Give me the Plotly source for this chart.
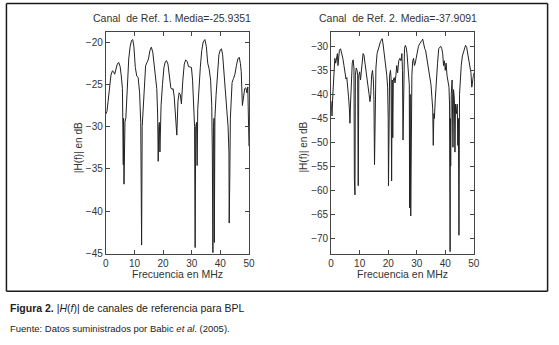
import plotly.graph_objects as go

# ---- Data: Canal de Ref. 1 (frequency MHz, |H(f)| dB) ----
f1 = [0.0, 0.4, 0.8, 1.3, 1.8, 2.3, 2.7, 3.1, 3.5, 4.0, 4.5, 5.0, 5.4, 5.8, 6.1, 6.2, 6.35, 6.5, 6.7,
      7.0, 7.5, 8.0, 8.5, 9.0, 9.4, 9.8, 10.3, 10.8, 11.3, 11.8, 12.2, 12.5, 12.7, 13.0, 13.4, 13.9,
      14.4, 14.9, 15.4, 15.9, 16.4, 16.9, 17.4, 17.8, 18.1, 18.3, 18.5, 18.7, 18.9, 19.3, 19.8, 20.3,
      20.8, 21.2, 21.7, 22.2, 22.7, 23.1, 23.5, 23.9, 24.3, 24.8, 25.2, 25.6, 26.0, 26.4, 26.9, 27.4,
      27.9, 28.4, 28.9, 29.4, 29.9, 30.3, 30.7, 31.0, 31.2, 31.4, 31.7, 31.9, 32.1, 32.5, 33.0, 33.5,
      34.0, 34.6, 35.1, 35.6, 36.1, 36.6, 37.0, 37.2, 37.4, 37.6, 37.8, 37.9, 38.1, 38.5, 39.0, 39.5,
      40.0, 40.4, 40.8, 41.3, 41.8, 42.3, 42.7, 43.0, 43.1, 43.3, 43.5, 44.1, 44.6, 45.1, 45.6, 46.1,
      46.6, 47.0, 47.3, 47.7, 48.1, 48.5, 48.9, 49.3, 49.6, 49.8, 50.0]
h1 = [-28.5, -28.2, -27.0, -25.0, -23.9, -23.4, -23.5, -23.8, -23.3, -22.6, -22.4, -22.9, -24.0, -25.5,
      -34.5, -29.0, -36.8, -30.0, -29.4, -29.0, -25.5, -22.0, -20.5, -19.8, -19.7, -20.5, -23.0, -24.0,
      -24.2, -26.0, -29.5, -44.0, -30.0, -28.0, -25.0, -22.8, -22.4, -22.0, -21.0, -20.6, -21.2, -22.8,
      -24.0, -25.5, -28.5, -34.1, -30.0, -29.5, -33.0, -27.5, -25.0, -23.0, -22.3, -22.2, -22.6, -24.0,
      -25.4, -25.6, -25.5, -26.5, -28.3, -31.0, -27.0, -26.0, -26.2, -27.3, -24.5, -22.6, -22.1, -22.3,
      -22.9, -23.0, -23.0, -24.5, -27.0, -30.0, -44.3, -30.0, -29.5, -34.6, -28.0, -25.5, -23.0, -21.0,
      -20.0, -19.7, -20.5, -22.5, -23.2, -24.5, -27.5, -33.0, -44.9, -30.0, -29.0, -43.7, -29.0, -26.3,
      -23.5, -21.5, -20.9, -20.8, -21.5, -23.5, -25.8, -27.5, -30.0, -33.0, -41.4, -36.0, -29.0, -24.8,
      -24.3, -23.8, -22.8, -22.0, -21.8, -22.5, -23.5, -27.5, -26.5, -25.5, -25.4, -26.0, -25.3, -28.0,
      -32.3]

# ---- Data: Canal de Ref. 2 ----
f2 = [0.0, 0.3, 0.6, 0.9, 1.3, 1.6, 1.9, 2.2, 2.4, 2.6, 2.9, 3.3, 3.7, 4.1, 4.5, 4.9, 5.2, 5.5, 5.8,
      6.1, 6.4, 6.6, 6.8, 7.1, 7.4, 7.7, 8.0, 8.15, 8.25, 8.35, 8.5, 8.8, 9.1, 9.3, 9.5, 9.7, 10.0,
      10.3, 10.6, 10.9, 11.2, 11.5, 11.8, 12.1, 12.5, 12.9, 13.3, 13.6, 13.9, 14.2, 14.5, 14.8, 15.0,
      15.2, 15.4, 15.7, 16.1, 16.5, 16.9, 17.3, 17.6, 17.9, 18.2, 18.5, 18.8, 19.1, 19.5, 19.8, 20.0,
      20.1, 20.2, 20.3, 20.5, 20.8, 21.0, 21.2, 21.4, 21.6, 21.8, 22.1, 22.4, 22.7, 23.0, 23.3, 23.7,
      24.1, 24.5, 24.8, 25.0, 25.2, 25.4, 25.7, 26.0, 26.3, 26.6, 26.9, 27.2, 27.4, 27.5, 27.7, 27.9,
      28.1, 28.3, 28.6, 28.9, 29.2, 29.5, 29.8, 30.2, 30.6, 31.0, 31.4, 31.8, 32.1, 32.4, 32.8, 33.1,
      33.4, 33.8, 34.2, 34.6, 35.0, 35.3, 35.6, 35.8, 36.0, 36.2, 36.5, 36.9, 37.3, 37.7, 38.0, 38.4,
      38.8, 39.1, 39.4, 39.7, 40.0, 40.3, 40.6, 40.9, 41.3, 41.5, 41.7, 41.8, 41.9, 42.1, 42.4, 42.7,
      42.9, 43.2, 43.4, 43.6, 43.9, 44.2, 44.4, 44.6, 44.8, 45.0, 45.3, 45.6, 46.0, 46.4, 46.8, 47.1,
      47.5, 47.9, 48.3, 48.7, 49.0, 49.3, 49.6, 50.0]
h2 = [-41.4, -44.5, -40.0, -36.5, -32.5, -33.5, -32.8, -31.5, -34.0, -31.8, -30.8, -30.5, -31.3, -32.5,
      -34.0, -36.5, -36.8, -36.5, -38.0, -40.5, -43.0, -46.0, -42.0, -36.0, -33.5, -32.8, -34.5, -57.7,
      -38.0, -60.9, -36.0, -34.5, -35.0, -36.0, -59.0, -36.0, -35.3, -37.0, -35.0, -32.5, -31.5, -31.8,
      -33.0, -35.0, -36.0, -37.6, -40.0, -41.5, -40.0, -36.0, -35.0, -37.0, -41.0, -54.6, -40.0, -34.5,
      -31.5, -30.5, -29.5, -29.0, -28.7, -28.4, -29.5, -31.0, -32.0, -33.5, -36.0, -38.5, -45.0, -59.0,
      -45.0, -57.1, -36.0, -35.0, -36.5, -58.0, -37.0, -49.0, -37.0, -36.5, -37.6, -36.0, -34.0, -35.5,
      -33.0, -32.5, -33.0, -31.5, -35.0, -49.5, -34.0, -30.5, -29.8, -30.2, -31.5, -33.5, -35.0, -38.0,
      -63.6, -40.0, -65.3, -49.7, -36.0, -33.0, -32.5, -34.0, -33.5, -32.5, -31.0, -30.0, -29.5, -29.0,
      -28.8, -28.5, -29.5, -30.5, -30.8, -32.0, -34.0, -35.5, -37.0, -38.0, -40.5, -43.0, -50.6, -44.0,
      -45.0, -41.0, -36.0, -33.5, -30.5, -30.2, -30.0, -30.5, -31.5, -34.0, -33.0, -35.0, -33.5, -36.0,
      -37.5, -38.5, -42.0, -72.7, -45.0, -54.9, -40.0, -37.0, -51.0, -39.0, -41.0, -52.0, -42.0, -44.0,
      -42.0, -50.6, -45.0, -69.3, -40.0, -36.0, -34.0, -32.0, -31.0, -30.0, -29.8, -30.2, -31.5, -33.0,
      -34.8, -35.5, -38.5, -36.5, -35.5]

titles = ["Canal\u00a0 de Ref. 1. Media=-25.9351", "Canal\u00a0 de Ref. 2. Media=-37.9091"]
x_ticks = [0, 10, 20, 30, 40, 50]
y1_ticks = [-45, -40, -35, -30, -25, -20]
y2_ticks = [-70, -65, -60, -55, -50, -45, -40, -35, -30]

W, H = 559, 345
def px(x): return x / W
def py(y): return 1 - y / H

FONT = "Liberation Sans, Arial, Helvetica, sans-serif"
TXT = "#333333"
LINE = "#222222"

fig = go.Figure()
fig.add_trace(go.Scatter(x=f1, y=h1, mode="lines", line=dict(color=LINE, width=1),
                         xaxis="x", yaxis="y", showlegend=False, hoverinfo="skip"))
fig.add_trace(go.Scatter(x=f2, y=h2, mode="lines", line=dict(color=LINE, width=1),
                         xaxis="x2", yaxis="y2", showlegend=False, hoverinfo="skip"))

axis_common = dict(showline=True, linecolor="#444444", linewidth=1, mirror="ticks",
                   ticks="inside", ticklen=4, tickcolor="#444444", showgrid=False,
                   zeroline=False, tickfont=dict(family=FONT, size=10, color=TXT))

L_x0, L_x1 = 104.5, 250
R_x0, R_x1 = 333.5, 478.5
Y_top, Y_bot = 32.5, 258

fig.update_layout(
    width=W, height=H, autosize=False,
    margin=dict(l=0, r=0, t=0, b=0),
    paper_bgcolor="white", plot_bgcolor="white",
    xaxis=dict(domain=[px(L_x0), px(L_x1)], range=[0, 50], tickvals=x_ticks, anchor="y", **axis_common),
    yaxis=dict(domain=[py(Y_bot), py(Y_top)], range=[-45, -18.8], tickvals=y1_ticks, anchor="x", **axis_common),
    xaxis2=dict(domain=[px(R_x0), px(R_x1)], range=[0, 50], tickvals=x_ticks, anchor="y2", **axis_common),
    yaxis2=dict(domain=[py(Y_bot), py(Y_top)], range=[-73.1, -27], tickvals=y2_ticks, anchor="x2", **axis_common),
)

ann = []
for t, xc in zip(titles, [171.5, 401.5]):
    ann.append(dict(text=t, x=px(xc), y=py(18), xref="paper", yref="paper",
                    xanchor="center", yanchor="middle", showarrow=False,
                    font=dict(family=FONT, size=10.5, color=TXT)))
for (a, b) in [(L_x0, L_x1), (R_x0, R_x1)]:
    ann.append(dict(text="Frecuencia en MHz", x=px((a + b) / 2), y=py(279), xref="paper", yref="paper",
                    xanchor="center", yanchor="middle", showarrow=False,
                    font=dict(family=FONT, size=10.5, color=TXT)))
for xc in [77, 305]:
    ann.append(dict(text="|H(f)| en dB", x=px(xc), y=py(150), xref="paper", yref="paper",
                    xanchor="center", yanchor="middle", showarrow=False, textangle=-90,
                    font=dict(family=FONT, size=10, color=TXT)))
ann.append(dict(text="<b>Figura 2.</b> |<i>H</i>(<i>f</i>)| de canales de referencia para BPL",
                x=px(5), y=py(313), xref="paper", yref="paper", xanchor="left", yanchor="middle",
                showarrow=False, font=dict(family=FONT, size=10.5, color="#222222")))
ann.append(dict(text="Fuente: Datos suministrados por Babic <i>et al</i>. (2005).",
                x=px(5), y=py(334), xref="paper", yref="paper", xanchor="left", yanchor="middle",
                showarrow=False, font=dict(family=FONT, size=9.5, color="#222222")))
fig.update_layout(annotations=ann)

# outer frame drawn as four separate lines
bx0, bx1, by0, by1 = 3.5, 553.5, 3.5, 296.5
border = dict(color="#1a1a1a", width=1.5)
for (xa, ya, xb, yb) in [(bx0, by1, bx0, by0), (bx0, by0, bx1, by0), (bx1, by0, bx1, by1), (bx0, by1, bx1, by1)]:
    fig.add_shape(type="line", xref="paper", yref="paper", x0=px(xa), y0=py(ya), x1=px(xb), y1=py(yb),
                  line=border)

fig.write_html("out.html", config={"displayModeBar": False},
               post_script="document.body.style.margin='0';document.body.style.padding='0';"
                           "document.body.style.overflow='hidden';")
